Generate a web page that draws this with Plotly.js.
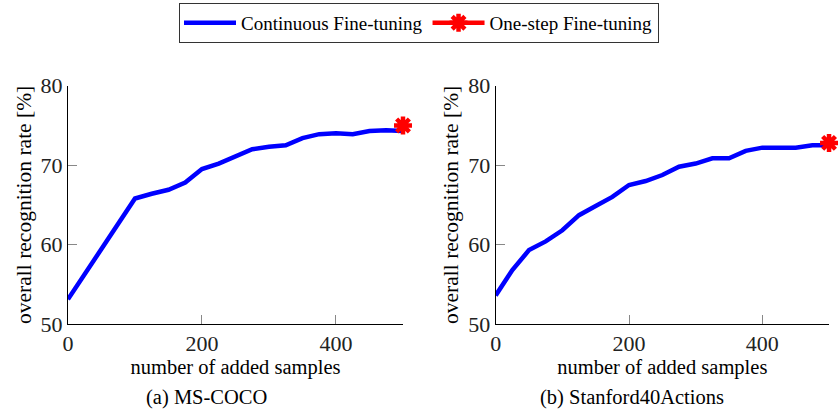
<!DOCTYPE html>
<html>
<head>
<meta charset="utf-8">
<script src="https://cdn.plot.ly/plotly-3.0.1.min.js"></script>
<style>
html,body{margin:0;padding:0;background:#fff;}
#chart{width:838px;height:418px;}
</style>
</head>
<body>
<div id="chart"></div>
<script>
const samples = [0,25,50,75,100,125,150,175,200,225,250,275,300,325,350,375,400,425,450,475,500];
const cocoRate = [53.1,56.3,59.5,62.5,65.8,66.4,66.9,67.8,69.5,70.2,71.1,72.0,72.3,72.5,73.4,73.9,74.0,73.9,74.3,74.4,74.3];
const stanfordRate = [53.6,56.8,59.3,60.4,61.8,63.7,64.85,66.0,67.5,68.0,68.75,69.8,70.2,70.85,70.85,71.8,72.2,72.2,72.2,72.5,72.5];
const oneStepSamples = [500];
const cocoOneStep = [75.0];
const stanfordOneStep = [72.8];
const yTicks = [50,60,70,80];
const xTicks = [0,200,400];
const captions = ['(a) MS-COCO', '(b) Stanford40Actions'];

const serif = 'Liberation Serif';
const blue = '#0000ff', red = '#ff0000';

const traces = [
  {x: samples, y: cocoRate, mode: 'lines', name: 'Continuous Fine-tuning',
   line: {color: blue, width: 4.5}, xaxis: 'x', yaxis: 'y', legendgroup: 'c'},
  {x: oneStepSamples, y: cocoOneStep, mode: 'lines+markers', name: 'One-step Fine-tuning',
   line: {color: red, width: 4.5}, marker: {symbol: 'asterisk-open', size: 15, color: red, line: {color: red, width: 4.5}},
   xaxis: 'x', yaxis: 'y', legendgroup: 'o', cliponaxis: false},
  {x: samples, y: stanfordRate, mode: 'lines', name: 'Continuous Fine-tuning', showlegend: false,
   line: {color: blue, width: 4.5}, xaxis: 'x2', yaxis: 'y2', legendgroup: 'c'},
  {x: oneStepSamples, y: stanfordOneStep, mode: 'lines+markers', name: 'One-step Fine-tuning', showlegend: false,
   line: {color: red, width: 4.5}, marker: {symbol: 'asterisk-open', size: 15, color: red, line: {color: red, width: 4.5}},
   xaxis: 'x2', yaxis: 'y2', legendgroup: 'o', cliponaxis: false}
];

function xax(domain, anchor) {
  return {domain: domain, anchor: anchor, range: [0, 500], tickvals: xTicks, ticktext: xTicks.map(String),
    showline: true, linecolor: '#000', linewidth: 1, ticks: 'inside', ticklen: 9, tickcolor: '#888',
    showgrid: false, zeroline: false, tickfont: {family: serif, size: 22, color: '#222'},
    title: {text: 'number of added samples', font: {family: serif, size: 20.5, color: '#000'}, standoff: 0}};
}
function yax(domain, anchor) {
  return {domain: domain, anchor: anchor, range: [50, 80], tickvals: yTicks, ticktext: yTicks.map(String),
    showline: true, linecolor: '#000', linewidth: 1, ticks: 'inside', ticklen: 9, tickcolor: '#888',
    showgrid: false, zeroline: false, tickfont: {family: serif, size: 22, color: '#222'},
    title: {text: 'overall recognition rate [%]', font: {family: serif, size: 21.5, color: '#000'}, standoff: 3}};
}

const layout = {
  width: 838, height: 418,
  font: {family: serif, size: 18, color: '#000'},
  margin: {l: 0, r: 0, t: 0, b: 0},
  paper_bgcolor: '#fff', plot_bgcolor: '#fff',
  showlegend: true,
  legend: {orientation: 'h', x: 0.5, xanchor: 'center', y: 0.993, yanchor: 'top',
    bordercolor: '#333', borderwidth: 1, font: {family: serif, size: 19, color: '#000'},
    itemwidth: 52, tracegroupgap: 0},
  xaxis: xax([0.0811, 0.4809], 'y'),
  yaxis: yax([0.2249, 0.795], 'x'),
  xaxis2: xax([0.5915, 0.9893], 'y2'),
  yaxis2: yax([0.2249, 0.795], 'x2'),
  annotations: [
    {text: captions[0], xref: 'paper', yref: 'paper', x: 206/838, y: 1 - 397/418, xanchor: 'center', yanchor: 'middle',
     showarrow: false, font: {family: serif, size: 20.5, color: '#000'}},
    {text: captions[1], xref: 'paper', yref: 'paper', x: 632/838, y: 1 - 397/418, xanchor: 'center', yanchor: 'middle',
     showarrow: false, font: {family: serif, size: 20.5, color: '#000'}}
  ]
};

Plotly.newPlot('chart', traces, layout, {displayModeBar: false, staticPlot: true});
</script>
</body>
</html>
